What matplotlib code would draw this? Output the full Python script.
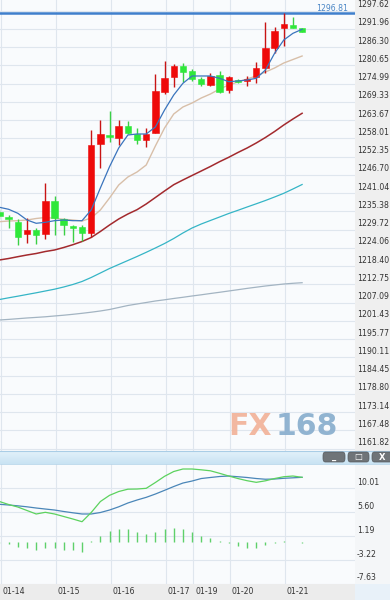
import numpy as np
import matplotlib
matplotlib.use('Agg')
import matplotlib.pyplot as plt
from matplotlib.patches import Rectangle, FancyBboxPatch
from matplotlib.colors import LinearSegmentedColormap
import matplotlib.transforms as mtransforms

# ---------------- data ----------------
opens  = [1235.28, 1233.73, 1232.18, 1228.36, 1229.60, 1228.27, 1238.69, 1232.92, 1230.84, 1230.44,
          1228.76, 1256.28, 1259.07, 1258.04, 1261.86, 1259.28, 1257.52, 1259.78, 1272.50, 1276.96,
          1280.47, 1278.92, 1276.34, 1274.58, 1277.68, 1273.02, 1276.13, 1275.91, 1276.96, 1279.76,
          1285.96, 1292.35, 1293.19, 1292.16]
highs  = [1236.11, 1234.25, 1232.92, 1233.23, 1230.22, 1244.09, 1240.15, 1233.42, 1231.15, 1231.15,
          1260.62, 1263.72, 1266.60, 1263.72, 1263.50, 1261.14, 1261.14, 1277.89, 1282.02, 1281.09,
          1281.49, 1279.54, 1276.96, 1278.39, 1278.92, 1277.37, 1276.44, 1277.37, 1281.80, 1294.21,
          1292.66, 1296.81, 1295.57, 1292.30]
lows   = [1233.01, 1230.13, 1224.95, 1225.66, 1225.26, 1226.81, 1228.05, 1228.05, 1225.97, 1226.28,
          1227.52, 1248.92, 1256.99, 1255.97, 1259.28, 1256.28, 1255.25, 1259.59, 1271.78, 1274.05,
          1275.60, 1275.97, 1274.27, 1274.27, 1272.09, 1272.19, 1275.20, 1274.27, 1275.29, 1278.39,
          1284.59, 1286.67, 1292.16, 1291.00]
closes = [1234.04, 1233.01, 1227.52, 1229.60, 1228.05, 1238.69, 1233.23, 1231.15, 1230.13, 1228.76,
          1255.97, 1259.28, 1258.35, 1261.86, 1259.59, 1257.52, 1259.28, 1272.81, 1276.65, 1280.47,
          1278.70, 1276.44, 1274.89, 1277.37, 1272.50, 1276.96, 1275.51, 1276.53, 1279.76, 1286.14,
          1291.32, 1293.40, 1292.35, 1291.11]

ma5  = [1236.64, 1236.02, 1234.78, 1232.70, 1231.68, 1231.99, 1232.49, 1232.70, 1232.49, 1232.49,
        1235.80, 1242.63, 1249.23, 1255.03, 1259.07, 1259.38, 1259.38, 1261.55, 1266.82, 1271.47,
        1275.10, 1277.37, 1277.37, 1277.37, 1276.65, 1275.60, 1275.82, 1276.13, 1276.65, 1279.23,
        1284.41, 1288.53, 1290.61, 1291.85]
ma10 = [1232.18, 1232.39, 1232.49, 1232.70, 1233.17, 1233.48, 1233.23, 1232.92, 1232.70, 1232.39,
        1233.32, 1235.80, 1239.53, 1243.56, 1246.04, 1247.59, 1249.76, 1255.66, 1261.24, 1265.58,
        1267.75, 1268.99, 1270.54, 1271.78, 1273.33, 1274.58, 1275.51, 1276.44, 1277.37, 1278.61,
        1279.85, 1281.40, 1282.48, 1283.57]
ma20 = [1220.30, 1220.76, 1221.32, 1221.85, 1222.31, 1222.93, 1223.40, 1224.17, 1225.04, 1226.03,
        1227.27, 1229.14, 1231.15, 1233.01, 1234.56, 1235.90, 1237.67, 1239.68, 1241.70, 1243.65,
        1245.11, 1246.51, 1247.90, 1249.30, 1250.79, 1252.15, 1253.64, 1255.03, 1256.59, 1258.29,
        1260.15, 1262.17, 1264.03, 1265.80]
ma40 = [1208.04, 1208.57, 1209.07, 1209.60, 1210.12, 1210.68, 1211.24, 1211.92, 1212.70, 1213.63,
        1214.87, 1216.26, 1217.66, 1218.90, 1220.14, 1221.38, 1222.68, 1224.02, 1225.41, 1226.96,
        1228.67, 1230.22, 1231.46, 1232.55, 1233.63, 1234.72, 1235.71, 1236.73, 1237.73, 1238.75,
        1239.84, 1240.98, 1242.32, 1243.71]
ma60 = [1201.69, 1201.87, 1202.09, 1202.31, 1202.49, 1202.68, 1202.93, 1203.17, 1203.45, 1203.76,
        1204.10, 1204.48, 1204.94, 1205.56, 1206.18, 1206.65, 1207.11, 1207.58, 1207.95, 1208.36,
        1208.73, 1209.13, 1209.50, 1209.90, 1210.28, 1210.68, 1211.08, 1211.49, 1211.86, 1212.23,
        1212.54, 1212.85, 1213.07, 1213.25]

macd_diff = [7.53, 6.98, 6.52, 5.88, 5.24, 5.55, 5.24, 4.78, 4.32, 3.82,
             5.51, 7.53, 8.67, 9.37, 9.80, 9.83, 9.96, 11.03, 12.17, 13.05,
             13.51, 13.51, 13.36, 13.18, 12.72, 12.22, 11.76, 11.36, 11.06, 11.34,
             11.76, 12.09, 12.22, 11.98]
macd_dea  = [7.02, 6.89, 6.74, 6.56, 6.34, 6.15, 5.97, 5.70, 5.46, 5.24,
             5.24, 5.51, 5.97, 6.56, 7.26, 7.81, 8.30, 8.91, 9.59, 10.29,
             10.93, 11.30, 11.76, 11.95, 12.13, 12.22, 12.09, 11.95, 11.76, 11.63,
             11.67, 11.80, 11.89, 11.98]
macd_hist = [-0.1, -0.2, -0.9, -1.1, -1.4, -1.0, -1.1, -1.3, -1.3, -1.7,
             0.3, 1.2, 2.1, 2.45, 2.45, 1.85, 1.5, 2.0, 2.45, 2.75,
             2.45, 2.0, 1.2, 0.8, 0.2, -0.1, -0.7, -1.0, -1.0, -0.5,
             -0.15, 0.2, 0.1, -0.15]

date_labels = ['01-14', '01-15', '01-16', '01-17', '01-19', '01-20', '01-21']
date_index = [0, 6, 12, 18, 21, 25, 31]

price_ticks = [1297.62, 1291.96, 1286.30, 1280.65, 1274.99, 1269.33, 1263.67, 1258.01, 1252.35,
               1246.70, 1241.04, 1235.38, 1229.72, 1224.06, 1218.40, 1212.75, 1207.09, 1201.43,
               1195.77, 1190.11, 1184.45, 1178.80, 1173.14, 1167.48, 1161.82]
price_tick_labels = ['1297.62', '1291.96', '1286.30', '1280.65', '1274.99', '1269.33', '1263.67',
                     '1258.01', '1252.35', '1246.70', '1241.04', '1235.38', '1229.72', '1224.06',
                     '1218.40', '1212.75', '1207.09', '1201.43', '1195.77', '1190.11', '1184.45',
                     '1178.80', '1173.14', '1167.48', '1161.82']
macd_ticks = [10.01, 5.60, 1.19, -3.22, -7.63]
macd_tick_labels = ['10.01', '5.60', '1.19', '-3.22', '-7.63']
high_line = 1296.81
high_label = '1296.81'

# ---------------- figure ----------------
W, H = 390, 600
fig = plt.figure(figsize=(W / 100, H / 100), dpi=100)
fig.patch.set_facecolor('white')

def fb(x0, y0, x1, y1):
    return [x0 / W, 1 - y1 / H, (x1 - x0) / W, (y1 - y0) / H]

PLOT_R = 355
UP = '#ee0a0a'
DOWN = '#2fe83a'
GRID = '#dfe6ee'
BG = '#f9fbfd'
TXT = '#333333'
FS = 5.6

n = len(opens)
x = np.arange(n)
px_per_bar = 9.17
xa = 0.055
xb = xa + PLOT_R / px_per_bar

# background blocks (behind everything)
def bg_rect(x0, y0, x1, y1, color):
    fig.patches.append(Rectangle((x0 / W, 1 - y1 / H), (x1 - x0) / W, (y1 - y0) / H,
                                 transform=fig.transFigure, facecolor=color, edgecolor='none', zorder=-5))

bg_rect(PLOT_R, 0, W, 451, '#efefef')
bg_rect(PLOT_R, 464, W, 584, '#f4f6f8')
bg_rect(0, 584, PLOT_R, H, '#ececec')
bg_rect(PLOT_R, 584, W, H, '#e8f1f9')

# ---------------- main panel ----------------
ax = fig.add_axes(fb(0, 0, PLOT_R, 451))
ax.set_facecolor(BG)
ax.set_xlim(xa, xb)
ax.set_ylim(1161.05, 1300.94)
for s in ax.spines.values():
    s.set_visible(False)
ax.set_xticks([])
ax.set_yticks([])

for t in price_ticks:
    ax.axhline(t, color=GRID, lw=0.8, zorder=1)
for d in date_index:
    ax.axvline(d + 0.12, color=GRID, lw=0.8, zorder=1)

ax.axhline(high_line, color='#3f7fcc', lw=1.8, zorder=2)
ax.text(0.98, high_line, high_label,
        transform=mtransforms.offset_copy(ax.get_yaxis_transform(), fig=fig, x=0, y=5, units='dots'),
        ha='right', va='center', fontsize=FS, color='#4a86c6', zorder=6)

# moving averages
ax.plot(x, ma60, color='#a3b4c2', lw=0.9, zorder=3)
ax.plot(x, ma40, color='#35b5c6', lw=0.9, zorder=3)
ax.plot(x, ma20, color='#a32a2e', lw=1.1, zorder=3)
ax.plot(x, ma10, color='#d8bfa9', lw=1.0, zorder=3)
ax.plot(x, ma5, color='#3a74bd', lw=0.9, zorder=5)

# candles
o = np.array(opens); c = np.array(closes)
up = c >= o
cols = np.where(up, UP, DOWN)
wick_cols = np.where(up, '#c81414', '#3ad045')
ax.vlines(x, lows, highs, colors=wick_cols, lw=1.0, zorder=4)
bottom = np.minimum(o, c)
height = np.maximum(np.abs(c - o), 0.55)
ax.bar(x, height, bottom=bottom, width=0.7, color=cols, edgecolor=cols, lw=0.4, zorder=4)

# right price labels
lab_tr = mtransforms.offset_copy(ax.get_yaxis_transform(), fig=fig, x=2, y=6, units='dots')
for t, lab in zip(price_ticks, price_tick_labels):
    ax.text(1.0, t, lab, transform=lab_tr, ha='left', va='center', fontsize=FS, color=TXT, clip_on=False)

# watermark
fig.text(228 / W, 1 - 426.5 / H, 'FX', fontsize=21.5, fontweight='bold', color='#f2b59c',
         ha='left', va='center', alpha=0.95)
fig.text(276 / W, 1 - 426.5 / H, '168', fontsize=21.5, fontweight='bold', color='#8cb0cf',
         ha='left', va='center', alpha=0.95)

# ---------------- header bar ----------------
grad = np.linspace(0, 1, 20).reshape(-1, 1)
hax = fig.add_axes(fb(0, 451, W, 464))
hax.set_axis_off()
cm = LinearSegmentedColormap.from_list('hb', ['#e2f1fa', '#c9e3f3'])
hax.imshow(grad, aspect='auto', cmap=cm, extent=[0, 1, 0, 1], origin='upper')
hax.set_xlim(0, 1); hax.set_ylim(0, 1)
fig.add_artist(plt.Line2D([0, 1], [1 - 451 / H, 1 - 451 / H], transform=fig.transFigure, color='#a9cde6', lw=0.8))
fig.add_artist(plt.Line2D([0, 1], [1 - 464 / H, 1 - 464 / H], transform=fig.transFigure, color='#b8d6ea', lw=0.6))

btns = [(323, 345, '_'), (348, 369, '□'), (372, 392, 'X')]
for x0, x1, sym in btns:
    fig.patches.append(FancyBboxPatch((x0 / W, 1 - 462 / H), (x1 - x0) / W, 10 / H,
                                      boxstyle='round,pad=0,rounding_size=0.006',
                                      transform=fig.transFigure, facecolor='#6f7478', edgecolor='#555a5e',
                                      lw=0.5, zorder=5))
    fig.text((x0 + x1) / 2 / W, 1 - 457 / H, sym, ha='center', va='center', fontsize=6, color='white',
             fontweight='bold', zorder=6)

# ---------------- MACD panel ----------------
mx = fig.add_axes(fb(0, 464, PLOT_R, 584))
mx.set_facecolor(BG)
mx.set_xlim(xa, xb)
mx.set_ylim(-7.63, 14.43)
for s in mx.spines.values():
    s.set_visible(False)
mx.set_xticks([]); mx.set_yticks([])
for t in macd_ticks:
    mx.axhline(t, color=GRID, lw=0.8, zorder=1)
for d in date_index:
    mx.axvline(d + 0.12, color=GRID, lw=0.8, zorder=1)

mx.vlines(x, 0, macd_hist, colors='#5fd06a', lw=1.0, zorder=3)
mx.plot(x, macd_dea, color='#4a86b8', lw=0.9, zorder=4)
mx.plot(x, macd_diff, color='#5cd25e', lw=0.9, zorder=4)

mlab_tr = mtransforms.offset_copy(mx.get_yaxis_transform(), fig=fig, x=2, y=6, units='dots')
for t, lab in zip(macd_ticks, macd_tick_labels):
    mx.text(1.0, t, lab, transform=mlab_tr, ha='left', va='center', fontsize=FS, color=TXT, clip_on=False)

# ---------------- date labels ----------------
date_tr = mtransforms.offset_copy(mx.get_xaxis_transform(), fig=fig, x=2, y=0, units='dots')
for d, lab in zip(date_index, date_labels):
    mx.text(d + 0.12, -0.065, lab, transform=date_tr, ha='left', va='center', fontsize=FS, color=TXT,
            clip_on=False)

fig.savefig('out.png', dpi=100)
